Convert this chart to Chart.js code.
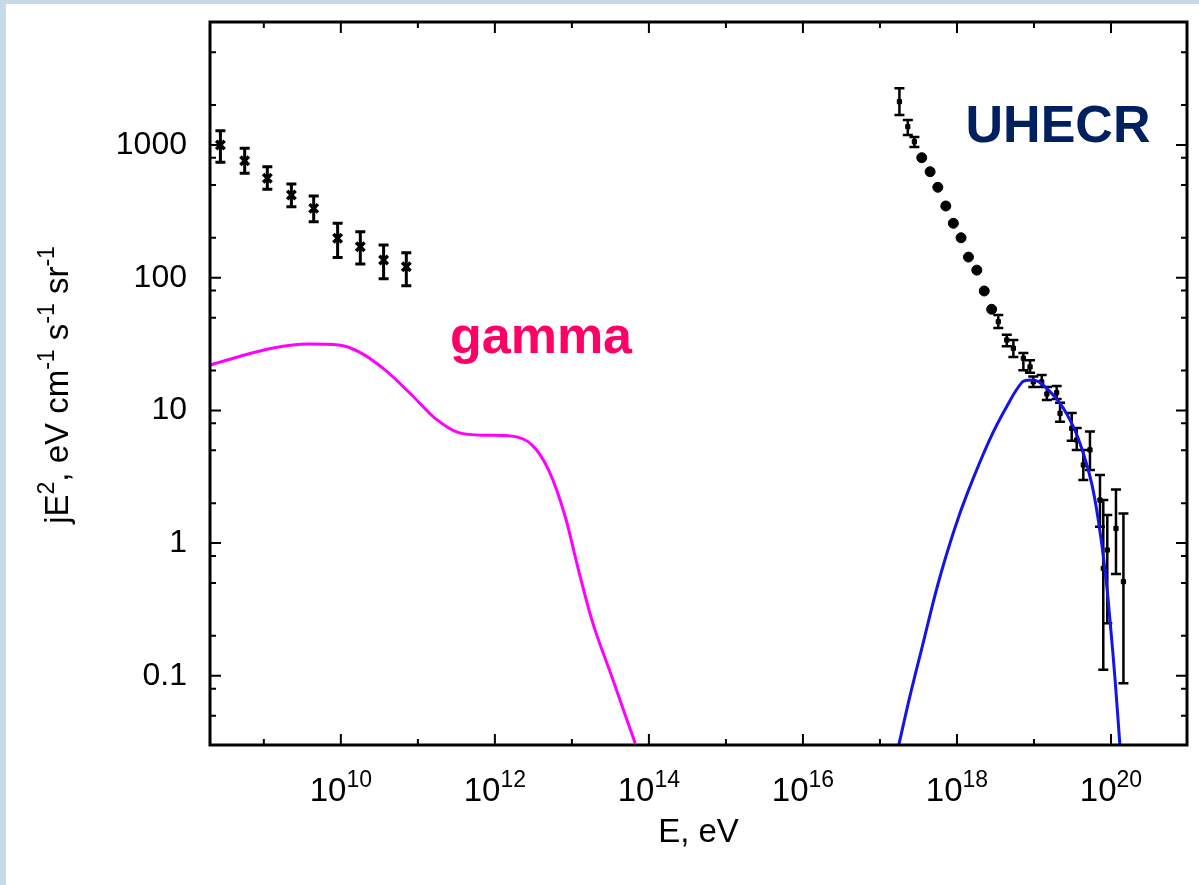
<!DOCTYPE html>
<html>
<head>
<meta charset="utf-8">
<script src="https://cdn.jsdelivr.net/npm/chart.js@4.4.0/dist/chart.umd.min.js"></script>
<style>
  html, body { margin: 0; padding: 0; background: #c9d9ec; overflow: hidden; }
  #sheet { position: absolute; left: 6px; top: 4px; width: 1193px; height: 881px; background: #fff; }
  #wrap { position: absolute; left: 0; top: 0; width: 1199px; height: 885px; }
</style>
</head>
<body>
<div id="sheet"></div>
<div id="wrap"><canvas id="spec" width="1199" height="885"></canvas></div>
<script>
// Fermi diffuse gamma points (E in eV, jE^2 in eV cm^-1 s^-1 sr^-1)
const fermiE    = [2.73e8, 5.64e8, 1.11e9, 2.28e9, 4.44e9, 9.08e9, 1.79e10, 3.59e10, 7.08e10];
const fermiFlux = [1000, 762, 561, 420, 333, 198, 171, 136, 121];
const fermiLo   = [741, 612, 464, 343, 264, 142, 127, 98, 87];
const fermiHi   = [1282, 944, 685, 508, 413, 257, 222, 176, 154];

// cosmic ray spectrum points, null = no error bar drawn
const uhecrE = [1.79e17, 2.30e17, 2.80e17, 3.49e17, 4.48e17, 5.64e17, 7.16e17, 8.97e17,
  1.13e18, 1.41e18, 1.81e18, 2.26e18, 2.82e18, 3.44e18, 4.43e18, 5.40e18, 7.28e18, 8.89e18,
  9.79e18, 1.26e19, 1.47e19, 1.97e19, 2.18e19, 3.09e19, 3.59e19, 4.37e19, 5.33e19, 7.19e19,
  7.94e19, 8.95e19, 1.16e20, 1.45e20];
const uhecrFlux = [2120, 1374, 1059, 802, 629, 480, 347, 257, 200, 143, 114, 79.4, 57.8, 46.6,
  33.9, 29.4, 24.7, 21.3, 16.4, 16.4, 13.3, 13.6, 9.5, 7.33, 5.98, 3.88, 5.04, 2.11, 0.645,
  0.887, 1.29, 0.512];
const uhecrLo = [1683, 1189, 966, null, null, null, null, null, null, null, null, null, null,
  41.8, 30.5, 25.3, 20.1, 19.2, 15.0, 15.0, 12.0, 12.2, 8.2, 5.9, 5.04, 2.99, 3.56, 1.33,
  0.111, 0.249, 0.585, 0.0877];
const uhecrHi = [2672, 1542, 1148, null, null, null, null, null, null, null, null, null, null,
  52.4, 37.1, 33.9, 27.1, 23.9, 18.0, 18.5, 15.0, 15.3, 11.4, 9.55, 7.37, 5.04, 6.92, 3.26,
  2.11, 1.63, 2.54, 1.67];

// model curves
const gammaE = [2.02e8, 4.72e8, 1.28e9, 3.82e9, 9.36e9, 1.70e10, 3.78e10, 8.40e10, 1.68e11,
  3.38e11, 7.50e11, 1.67e12, 3.03e12, 4.98e12, 8.20e12, 1.22e13, 1.82e13, 3.31e13, 6.64e13];
const gammaFlux = [22, 25.4, 29.4, 31.6, 31.1, 27.7, 20.1, 13.0, 8.7, 6.8, 6.5, 6.4, 5.5,
  3.56, 1.58, 0.627, 0.263, 0.098, 0.031];

const protonE = [1.73e17, 2.43e17, 3.45e17, 5.75e17, 9.1e17, 1.38e18, 2.65e18, 4.43e18,
  6.93e18, 8.6e18, 1.09e19, 1.32e19, 2.18e19, 3.24e19, 4.37e19, 5.61e19, 6.84e19, 8.36e19,
  9.70e19, 1.13e20, 1.31e20];
const protonFlux = [0.029, 0.0687, 0.156, 0.507, 1.23, 2.42, 6.0, 10.7, 16.2, 16.9, 16.7,
  15.5, 11.3, 7.54, 4.75, 2.82, 1.49, 0.627, 0.263, 0.093, 0.029];

// axes
const xMin = 2.0e8, xMax = 9.7e20;
const yMin = 0.0301, yMax = 8450;
const xTickExps = [9, 10, 11, 12, 13, 14, 15, 16, 17, 18, 19, 20];
const xLabelExps = [10, 12, 14, 16, 18, 20];
const yTickValues = [0.1, 1, 10, 100, 1000];
const yTickLabels = ['0.1', '1', '10', '100', '1000'];
const yMinorSteps = [2, 5, 8];

const FONT = "'Liberation Sans', Arial, sans-serif";

function pts(xs, ys) {
  return xs.map((v, i) => ({ x: v, y: ys[i] }));
}

// text with superscripts: parts = [[text, isSup], ...]
function drawRich(ctx, parts, x, y, size, supSize, align) {
  let total = 0;
  parts.forEach(([t, sup]) => {
    ctx.font = (sup ? supSize : size) + 'px ' + FONT;
    total += ctx.measureText(t).width;
  });
  let cx = align === 'center' ? x - total / 2 : x;
  ctx.textAlign = 'left';
  ctx.textBaseline = 'alphabetic';
  parts.forEach(([t, sup]) => {
    ctx.font = (sup ? supSize : size) + 'px ' + FONT;
    ctx.fillText(t, cx, sup ? y - size * 0.42 : y);
    cx += ctx.measureText(t).width;
  });
}

const errorBars = {
  id: 'errorBars',
  beforeDatasetsDraw(chart) {
    const { ctx, chartArea: a, scales: { x, y } } = chart;
    ctx.save();
    ctx.beginPath();
    ctx.rect(a.left, a.top, a.width, a.height);
    ctx.clip();
    ctx.strokeStyle = '#000';
    chart.data.datasets.forEach(ds => {
      if (!ds.errLo) return;
      ctx.lineWidth = ds.errWidth;
      ctx.beginPath();
      ds.data.forEach((p, i) => {
        const lo = ds.errLo[i], hi = ds.errHi[i];
        if (lo == null) return;
        const px = x.getPixelForValue(p.x);
        const y1 = y.getPixelForValue(lo), y2 = y.getPixelForValue(hi);
        const c = ds.capHalf;
        ctx.moveTo(px, y1); ctx.lineTo(px, y2);
        ctx.moveTo(px - c, y1); ctx.lineTo(px + c, y1);
        ctx.moveTo(px - c, y2); ctx.lineTo(px + c, y2);
      });
      ctx.stroke();
    });
    ctx.restore();
  }
};

const frameAndLabels = {
  id: 'frameAndLabels',
  afterDraw(chart) {
    const { ctx, chartArea: a, scales: { x, y } } = chart;
    ctx.save();
    ctx.strokeStyle = '#000';
    ctx.fillStyle = '#000';

    // tick marks, pointing inwards on all four sides
    ctx.lineWidth = 2;
    ctx.beginPath();
    xTickExps.forEach(k => {
      const px = x.getPixelForValue(Math.pow(10, k));
      const len = k % 2 === 0 ? 11 : 6;
      ctx.moveTo(px, a.bottom); ctx.lineTo(px, a.bottom - len);
      ctx.moveTo(px, a.top); ctx.lineTo(px, a.top + len);
    });
    for (let d = -2; d <= 3; d++) {
      const base = Math.pow(10, d);
      [1].concat(yMinorSteps).forEach(m => {
        const py = y.getPixelForValue(base * m);
        if (py > a.bottom - 4 || py < a.top + 4) return;
        const len = m === 1 ? 11 : 6;
        ctx.moveTo(a.left, py); ctx.lineTo(a.left + len, py);
        ctx.moveTo(a.right, py); ctx.lineTo(a.right - len, py);
      });
    }
    ctx.stroke();

    ctx.lineWidth = 3;
    ctx.strokeRect(a.left, a.top, a.width, a.height);

    // x tick labels 10^n
    xLabelExps.forEach(k => {
      const px = x.getPixelForValue(Math.pow(10, k));
      drawRich(ctx, [['10', false], [String(k), true]], px, a.bottom + 56, 33, 23, 'center');
    });

    // axis titles
    ctx.font = '33px ' + FONT;
    ctx.textAlign = 'center';
    ctx.textBaseline = 'alphabetic';
    ctx.fillText('E, eV', (a.left + a.right) / 2, a.bottom + 97);

    ctx.save();
    ctx.translate(68, 385);
    ctx.rotate(-Math.PI / 2);
    drawRich(ctx, [['jE', false], ['2', true], [', eV cm', false], ['-1', true],
      [' s', false], ['-1', true], [' sr', false], ['-1', true]], 0, 0, 33, 23, 'center');
    ctx.restore();

    // curve names
    ctx.textAlign = 'center';
    ctx.textBaseline = 'alphabetic';
    ctx.font = 'bold 52px ' + FONT;
    ctx.fillStyle = '#ff0066';
    ctx.fillText('gamma', 541, 353);
    ctx.fillStyle = '#002060';
    ctx.fillText('UHECR', 1058, 142);
    ctx.restore();
  }
};

new Chart(document.getElementById('spec'), {
  type: 'scatter',
  data: {
    datasets: [
      {
        label: 'gamma model',
        data: pts(gammaE, gammaFlux),
        showLine: true,
        borderColor: '#ff00ff',
        borderWidth: 3,
        pointRadius: 0,
        cubicInterpolationMode: 'monotone'
      },
      {
        label: 'proton model',
        data: pts(protonE, protonFlux),
        showLine: true,
        borderColor: '#1414e6',
        borderWidth: 3,
        pointRadius: 0,
        tension: 0.4
      },
      {
        label: 'Fermi',
        data: pts(fermiE, fermiFlux),
        pointStyle: 'crossRot',
        pointRadius: 6,
        borderColor: '#000',
        borderWidth: 3.5,
        errLo: fermiLo,
        errHi: fermiHi,
        errWidth: 3,
        capHalf: 5
      },
      {
        label: 'UHECR',
        data: pts(uhecrE, uhecrFlux),
        pointStyle: uhecrHi.map(h => h === null ? 'circle' : 'rect'),
        pointRadius: uhecrHi.map(h => h === null ? 5 : 3),
        backgroundColor: '#000',
        borderColor: '#000',
        borderWidth: 1,
        errLo: uhecrLo,
        errHi: uhecrHi,
        errWidth: 2.5,
        capHalf: 5
      }
    ]
  },
  options: {
    responsive: false,
    animation: false,
    devicePixelRatio: 1,
    layout: { padding: { left: 0, right: 12, top: 22, bottom: 0 } },
    plugins: { legend: { display: false }, tooltip: { enabled: false } },
    scales: {
      x: {
        type: 'logarithmic',
        min: xMin,
        max: xMax,
        grid: { display: false, drawTicks: false },
        border: { display: false },
        ticks: { display: false },
        afterFit: s => { s.height = 140; s.paddingLeft = 0; s.paddingRight = 0; }
      },
      y: {
        type: 'logarithmic',
        min: yMin,
        max: yMax,
        grid: { display: false, drawTicks: false },
        border: { display: false },
        ticks: {
          color: '#000',
          padding: 23,
          font: { family: FONT, size: 32 },
          callback: (v) => {
            const i = yTickValues.indexOf(v);
            return i >= 0 ? yTickLabels[i] : '';
          }
        },
        afterBuildTicks: s => { s.ticks = yTickValues.map(v => ({ value: v })); },
        afterFit: s => { s.width = 210; s.paddingTop = 0; s.paddingBottom = 0; }
      }
    }
  },
  plugins: [errorBars, frameAndLabels]
});
</script>
</body>
</html>
